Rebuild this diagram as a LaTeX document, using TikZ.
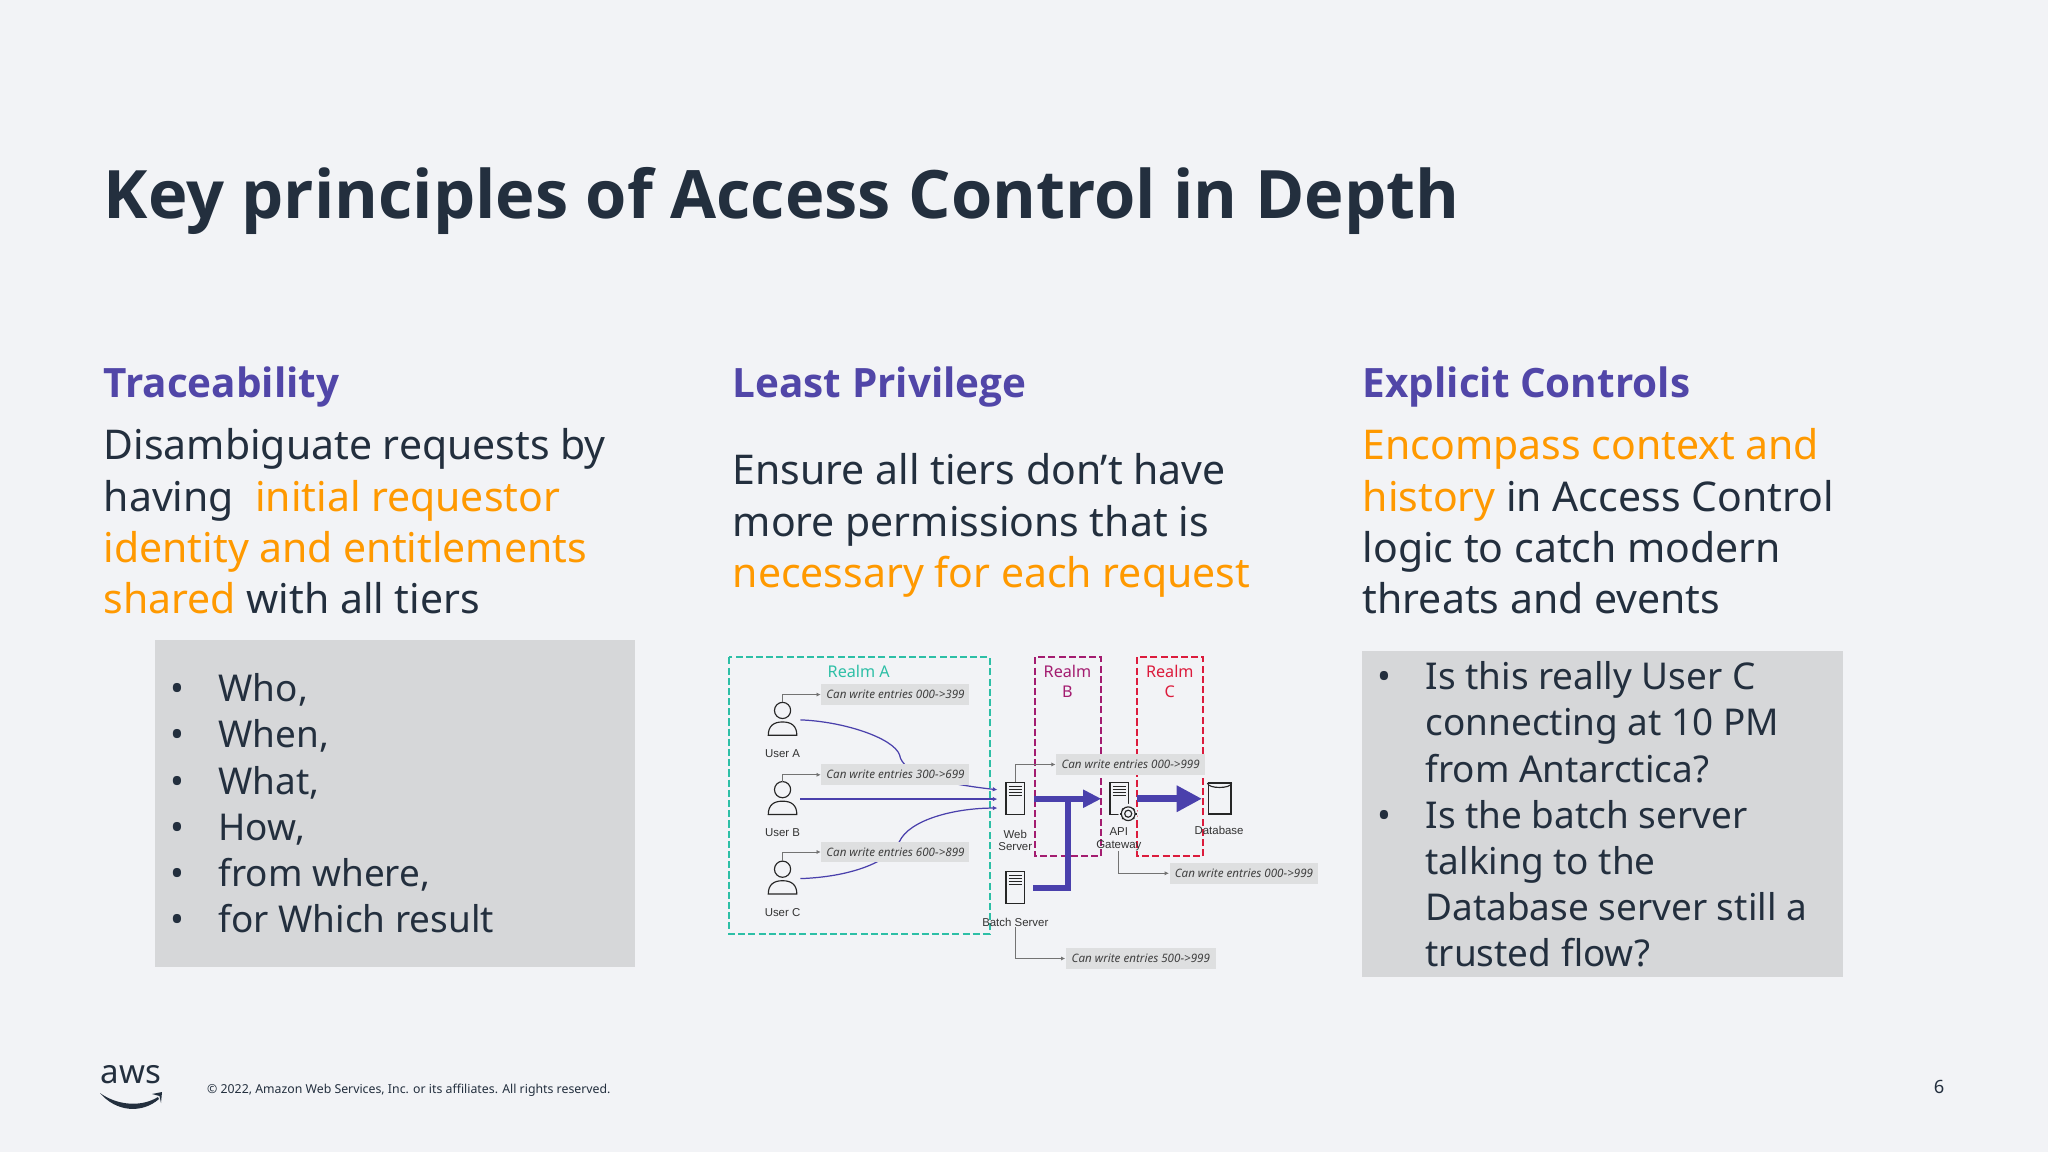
\documentclass[tikz,border=0pt]{standalone}
\usepackage{fontspec}
\setmainfont{Noto Sans}
\newfontfamily\headfont{Open Sans}
\newfontfamily\captionfont{Liberation Sans}
\usetikzlibrary{calc,arrows.meta,shapes.geometric}
\definecolor{slidebg}{HTML}{F2F3F6}
\definecolor{inkdark}{HTML}{232F3E}
\definecolor{headpurple}{HTML}{5146A8}
\definecolor{flowpurple}{HTML}{4A40AC}
\definecolor{awsorange}{HTML}{FF9900}
\definecolor{panelgrey}{HTML}{D6D7D9}
\definecolor{notegrey}{HTML}{DEDFE0}
\definecolor{realmteal}{HTML}{2DBFA6}
\definecolor{realmplum}{HTML}{A31C70}
\definecolor{realmred}{HTML}{DC1B3C}
\newcommand{\hl}[1]{\textcolor{awsorange}{#1}}
\newcommand{\bulletmark}{\makebox[13.6pt][l]{•}}
\newcommand{\bulletskip}{\hspace*{13.6pt}}
\newcommand{\fsz}[2]{\fontsize{#1pt}{#2pt}\selectfont}

\begin{document}
\begin{tikzpicture}[x=0.01cm, y=-0.01cm,
    every node/.style={inner sep=0pt, text=inkdark},
    heading/.style={anchor=base west, text=headpurple, font=\headfont\fsz{11.5}{15}\bfseries},
    bodytext/.style={anchor=north west, align=left, font=\fsz{11.65}{14.55}},
    listtext/.style={anchor=north west, align=left, font=\fsz{10.5}{13.12}},
    panel/.style={fill=panelgrey},
    note/.style={fill=notegrey, minimum height=5.9pt, font=\fsz{3.3}{4}\itshape, text=black!75},
    caption/.style={font=\captionfont\fsz{3.25}{3.55}, align=center, text=black!80},
    realm/.style={draw, dashed, line width=0.55pt, dash pattern=on 2pt off 0.9pt},
    realmlabel/.style={font=\fsz{4.6}{5.7}, align=center},
    flow/.style={draw=flowpurple, line width=0.35pt, -{Latex[length=1.3pt,width=1.3pt]}},
    notelink/.style={draw=black!55, line width=0.28pt, -{Latex[length=1.2pt,width=1.2pt]}},
    bigflow/.style={draw=flowpurple},
    icon/.style={draw=black!85, fill=slidebg, line width=0.33pt},
    servericon/.style={icon, minimum width=5.3pt, minimum height=9.1pt}
  ]
  \useasboundingbox[fill=slidebg] (0,0) rectangle (2048,1152);

  % Title and column headings
  \node (title) at (103,219) [anchor=base west, font=\headfont\fsz{19}{24}\bfseries] {Key principles of Access Control in Depth};
  \node (headLeft) at (103,398) [heading] {Traceability};
  \node (headMiddle) at (732,398) [heading] {Least Privilege};
  \node (headRight) at (1362,398) [heading] {Explicit Controls};

  % Column texts
  \node (textLeft) at (103,428) [bodytext] {Disambiguate requests by\\having\ \ \hl{initial requestor}\\\hl{identity and entitlements}\\\hl{shared} with all tiers};
  \node (textMiddle) at (732,453) [bodytext] {Ensure all tiers don’t have\\more permissions that is\\\hl{necessary for each request}};
  \node (textRight) at (1362,428) [bodytext] {\hl{Encompass context and}\\\hl{history} in Access Control\\logic to catch modern\\threats and events};

  % Grey panels
  \fill[panel] (155,640) rectangle (635,967);
  \fill[panel] (1362,651) rectangle (1843,977);
  \node (listLeft) at (170,673) [listtext] {\bulletmark Who,\\\bulletmark When,\\\bulletmark What,\\\bulletmark How,\\\bulletmark from where,\\\bulletmark for Which result};
  \node (listRight) at (1377,661) [listtext] {\bulletmark Is this really User C\\\bulletskip connecting at 10 PM\\\bulletskip from Antarctica?\\\bulletmark Is the batch server\\\bulletskip talking to the\\\bulletskip Database server still a\\\bulletskip trusted flow?};

  % Footer
  \node (awsword) at (131,1075) [font=\fsz{9.4}{12}] {aws};
  \fill[inkdark] (100,1093) .. controls (118,1106) and (142,1107) .. (158,1097) -- (159,1099) .. controls (142,1114) and (116,1112) .. (100,1093) -- cycle;
  \fill[inkdark] (152,1094) -- (162,1092) -- (161,1103) -- (159.5,1096) -- cycle;
  \node (copyright) at (206.5,1093) [anchor=base west, font=\fsz{3.5}{5}] {© 2022, Amazon Web Services, Inc. or its affiliates. All rights reserved.};
  \node (pagenum) at (1939,1087) [font=\fsz{5.2}{6}] {6};

  % Access diagram
  \begin{scope}[shift={(710,640)}, x=0.00408cm, y=-0.00333cm]
    \draw[realm, draw=realmteal] (47,52) rectangle (686,883);
    \draw[realm, draw=realmplum] (798,52) rectangle (960,650);
    \draw[realm, draw=realmred] (1048,52) rectangle (1210,650);
    \node (realmA) at (365,94) [realmlabel, text=realmteal] {Realm A};
    \node (realmB) at (877,124) [realmlabel, text=realmplum] {Realm\\B};
    \node (realmC) at (1128,124) [realmlabel, text=realmred] {Realm\\C};

    % Users
    \foreach \who/\ypos in {A/240, B/478, C/717} {
      \node (user\who) at (178,\ypos) [minimum width=9.7pt, minimum height=9.5pt] {};
      \draw[icon, fill=none] ($(user\who.south)+(-35,-6)$) .. controls ($(user\who.south)+(-35,-34)$) and ($(user\who.south)+(-22,-46)$) .. ($(user\who.south)+(0,-46)$) .. controls ($(user\who.south)+(22,-46)$) and ($(user\who.south)+(35,-34)$) .. ($(user\who.south)+(35,-6)$) -- cycle;
      \draw[icon] ($(user\who.north)+(0,24)$) circle (2.3pt);
      \node (captionUser\who) at (178,\ypos+102) [caption] {User \who};
    }

    % Servers and database
    \path (705,450) coordinate (webTop) (705,478) coordinate (webMid) (705,505) coordinate (webLow);
    \node (web) at (749,477) [servericon] {};
    \node (batch) at (749,744) [servericon] {};
    \node (gateway) at (1004,477) [servericon] {};
    \foreach \srv in {web, batch, gateway}
      \foreach \row in {-36,-27,-18,-9}
        \draw[icon] ($(\srv.center)+(-16,\row)$) -- ($(\srv.center)+(16,\row)$);
    \node (gear) at (1026,522) [circle, fill=slidebg, minimum size=5.6pt] {};
    \foreach \tooth in {0,45,...,315}
      \draw[icon, line width=0.5pt] ($(gear.center)+(\tooth:16)$) -- ($(gear.center)+(\tooth:21)$);
    \draw[icon, fill=slidebg] (gear.center) circle (1.95pt);
    \draw[icon, fill=slidebg] (gear.center) circle (1pt);
    \node (db) at (1250,477) [icon, fill=none, cylinder, shape border rotate=90, aspect=1.2, minimum width=6.5pt, minimum height=8.8pt] {};
    \draw[icon, fill=none] (db.before top) .. controls ($(db.before top)+(0,18)$) and ($(db.after top)+(0,18)$) .. (db.after top);
    \node (captionWeb) at (749,602) [caption] {Web\\Server};
    \node (captionGateway) at (1003,599) [caption] {API\\Gateway};
    \node (captionDb) at (1249,573) [caption] {Database};
    \node (captionBatch) at (749,848) [caption] {Batch Server};

    % Curves pass under the grey notes
    \draw[flow] (userA.east) .. controls (330,245) and (450,295) .. (465,345) .. controls (472,400) and (560,430) .. (webTop);
    \draw[flow] (userB.east) -- (webMid);
    \draw[flow] (userC.east) .. controls (340,712) and (440,670) .. (465,605) .. controls (490,540) and (600,505) .. (webLow);

    % Notes
    \node (noteA) at (455,164) [note, minimum width=42.1pt] {Can write entries 000->399};
    \node (noteB) at (455,405) [note, minimum width=42.1pt] {Can write entries 300->699};
    \node (noteC) at (455,637) [note, minimum width=42.1pt] {Can write entries 600->899};
    \node (noteWeb) at (1032,374) [note, minimum width=42.3pt] {Can write entries 000->999};
    \node (noteGateway) at (1310,701) [note, minimum width=42.3pt] {Can write entries 000->999};
    \node (noteBatch) at (1057,957) [note, minimum width=42.6pt] {Can write entries 500->999};
    \draw[notelink] (userA.north) |- (noteA.west);
    \draw[notelink] (userB.north) |- (noteB.west);
    \draw[notelink] (userC.north) |- (noteC.west);
    \draw[notelink] (web.north) |- (noteWeb.west);
    \draw[notelink] (captionGateway.south) |- (noteGateway.west);
    \draw[notelink] (captionBatch.south) |- (noteBatch.west);

    % Thick flows
    \path (795,477) coordinate (webOut) (960,477) coordinate (gatewayIn) (1048,477) coordinate (gatewayOut) (1207,477) coordinate (dbIn) (793,744) coordinate (batchOut) (878,477) coordinate (flowJoin);
    \draw[bigflow, line width=1.7pt, -{Triangle[length=5.2pt,width=4.9pt]}] (webOut) -- (gatewayIn);
    \draw[bigflow, line width=2.1pt, -{Triangle[length=7.2pt,width=7.1pt]}] (gatewayOut) -- (dbIn);
    \draw[bigflow, line width=1.7pt] (batchOut) -| (flowJoin);
  \end{scope}
\end{tikzpicture}
\end{document}
